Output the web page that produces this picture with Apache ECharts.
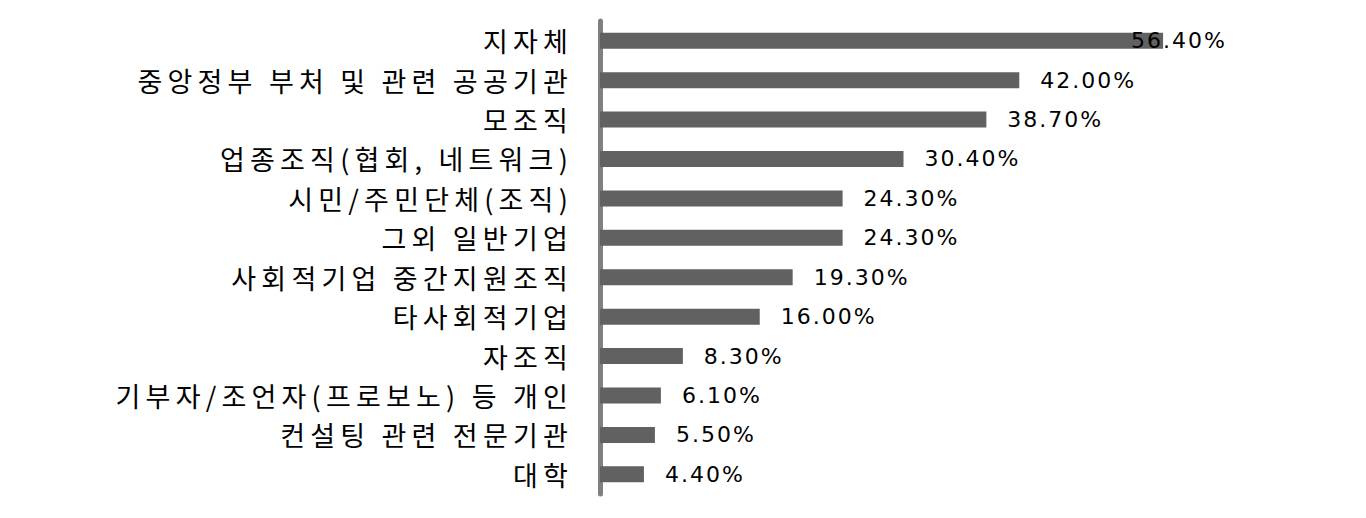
<!DOCTYPE html>
<html><head><meta charset="utf-8">
<script src="https://cdn.jsdelivr.net/npm/echarts@6/dist/echarts.min.js"></script>
<style>
html,body{margin:0;padding:0;background:#fff}#c{width:1366px;height:518px}
#c text[style*="Noto"]{letter-spacing:5.2px}
#c text[style*="DejaVu"]{letter-spacing:2px}
</style>
</head><body><div id="c"></div>
<script>
const categories = ['지자체','중앙정부 부처 및 관련 공공기관','모조직','업종조직(협회, 네트워크)','시민/주민단체(조직)','그외 일반기업','사회적기업 중간지원조직','타사회적기업','자조직','기부자/조언자(프로보노) 등 개인','컨설팅 관련 전문기관','대학'];
const values = [56.4, 42.0, 38.7, 30.4, 24.3, 24.3, 19.3, 16.0, 8.3, 6.1, 5.5, 4.4];

const chart = echarts.init(document.getElementById('c'), null, {renderer: 'svg'});
chart.setOption({
  animation: false,
  grid: {left: 600, top: 21, width: 599, height: 473},
  xAxis: {type: 'value', min: 0, max: 60, show: false},
  yAxis: {
    type: 'category', data: categories, inverse: true,
    axisLine: {show: true, lineStyle: {color: '#808080', width: 5}},
    axisTick: {show: false},
    axisLabel: {margin: 27, color: '#000', fontSize: 27, fontFamily: 'Noto Sans CJK KR', padding: [5, 0, 0, 0]}
  },
  series: [{
    type: 'bar', barWidth: 16,
    itemStyle: {color: '#616161'},
    data: values.map((v, i) => i === 0 ? {value: v, label: {offset: [-53, 0]}} : v),
    label: {
      show: true, position: 'right', distance: 21,
      color: '#000', fontSize: 22, fontFamily: 'DejaVu Sans',
      formatter: p => p.value.toFixed(2) + '%'
    }
  }]
});
</script></body></html>
